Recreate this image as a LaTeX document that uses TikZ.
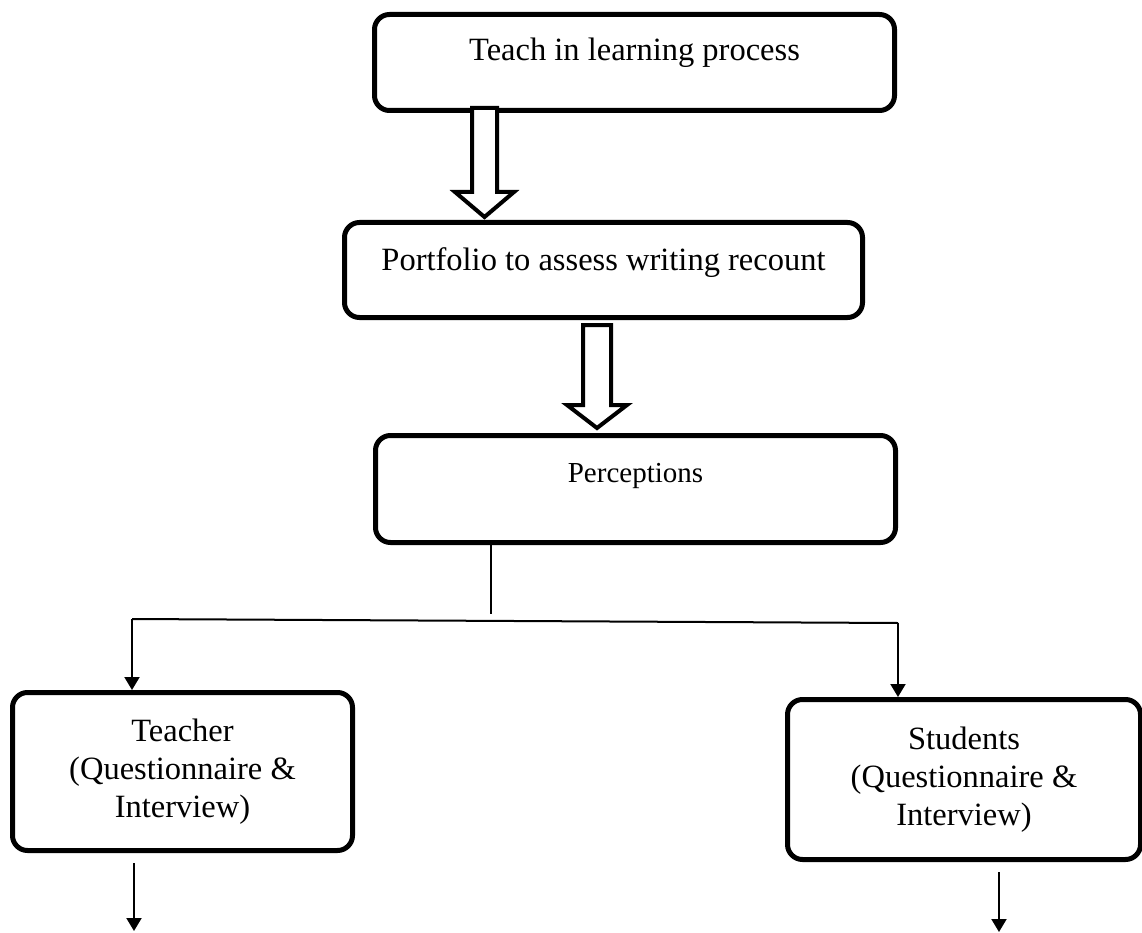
\documentclass[tikz,border=0pt]{standalone}
\usepackage{fontspec}
\setmainfont{Liberation Serif}
\usetikzlibrary{arrows.meta,calc}
\begin{document}
\begin{tikzpicture}[x=1pt,y=-1pt,
  rbox/.style={draw, line width=5pt, rounded corners=15pt, inner sep=0pt, anchor=north west, font=\fontsize{32.5}{38}\selectfont},
  hollow/.style={draw, line width=4pt, fill=white, line join=miter},
  thinline/.style={line width=2pt},
  arr/.style={line width=2pt, -{Triangle[width=15pt,length=13pt]}}]
\useasboundingbox (0,0) rectangle (1142,933);
% boxes
\node[rbox, minimum width=520pt, minimum height=96pt, text height=46pt, text depth=50pt] (b1) at (372,12) {Teach in learning process};
\node[rbox, minimum width=518pt, minimum height=95pt, text height=48pt, text depth=47pt] (b2) at (342,220) {Portfolio to assess writing recount};
\node[rbox, minimum width=520pt, minimum height=107pt, text height=47pt, text depth=60pt, font=\fontsize{29}{34}\selectfont] (b3) at (373,433) {Perceptions};
\node[rbox, minimum width=340pt, minimum height=158pt, align=center] (t) at (10,690) {Teacher\\(Questionnaire \&\\Interview)};
\node[rbox, minimum width=353pt, minimum height=160pt, align=center] (s) at (785,697) {Students\\(Questionnaire \&\\Interview)};
% hollow arrows
\coordinate (h1) at (484.5,108);
\draw[hollow] ($(h1)+(-12.5,0)$) -- ++(0,84) -- ++(-17,0) -- ++(29.5,25) -- ++(29.5,-25) -- ++(-17,0) -- ++(0,-84) -- cycle;
\coordinate (h2) at (597,325);
\draw[hollow] ($(h2)+(-14,0)$) -- ++(0,80) -- ++(-16,0) -- ++(30,23) -- ++(30,-23) -- ++(-16,0) -- ++(0,-80) -- cycle;
% branch connectors
\coordinate (v1) at (491,614);
\draw[thinline] (b3.south -| v1) -- (v1);
\coordinate (hl) at (132,619);
\coordinate (hr) at (898,623);
\draw[thinline] (hl) -- (hr);
\draw[arr] (hl) -- (t.north -| hl);
\draw[arr] (hr) -- (s.north -| hr);
% bottom arrows
\coordinate (tb) at (134,931);
\coordinate (sb) at (999,932);
\draw[arr] ($(t.south -| tb)+(0,10)$) -- (tb);
\draw[arr] ($(s.south -| sb)+(0,10)$) -- (sb);
\end{tikzpicture}
\end{document}
